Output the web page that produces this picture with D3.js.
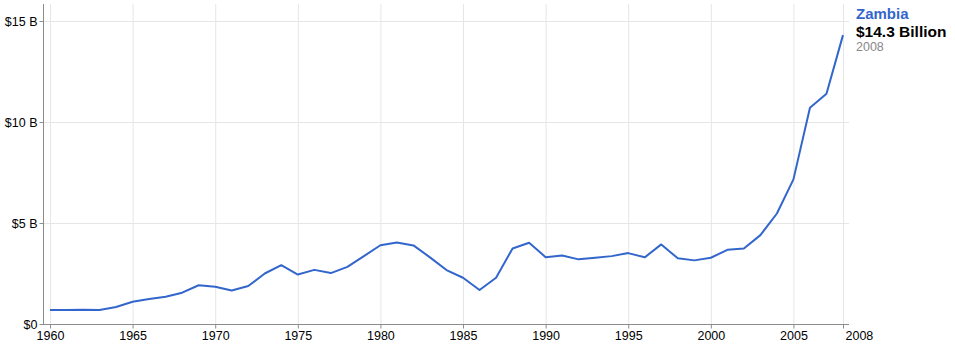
<!DOCTYPE html>
<html>
<head>
<meta charset="utf-8">
<script src="https://cdn.jsdelivr.net/npm/d3@7"></script>
<style>
  body { margin: 0; background: #fff; }
  svg { font-family: Arial, "Liberation Sans", sans-serif; }
  .grid line { stroke: #e6e6e6; stroke-width: 1; }
  .axis path, .axis line { stroke: #8c8c8c; }
  .axis text { fill: #000; font-size: 12.5px; }
</style>
</head>
<body>
<svg width="955" height="346"></svg>
<script>
// Zambia GDP, current US$ billions
const years = d3.range(1960, 2009);
const gdp = [
  0.69, 0.69, 0.70, 0.69, 0.84, 1.10, 1.24, 1.35, 1.55, 1.92,
  1.84, 1.66, 1.88, 2.50, 2.91, 2.45, 2.68, 2.52, 2.83, 3.36,
  3.90, 4.04, 3.89, 3.30, 2.67, 2.29, 1.68, 2.29, 3.74, 4.02,
  3.31, 3.39, 3.20, 3.28, 3.36, 3.51, 3.30, 3.94, 3.25, 3.15,
  3.28, 3.67, 3.74, 4.40, 5.47, 7.16, 10.71, 11.40, 14.30
];
const xTicks = [1960, 1965, 1970, 1975, 1980, 1985, 1990, 1995, 2000, 2005, 2008];
const yTicks = [0, 5, 10, 15];
const yLabels = ['$0', '$5 B', '$10 B', '$15 B'];

const data = years.map((y, i) => ({ year: y, value: gdp[i] }));

const svg = d3.select('svg');
const plotLeft = 43, plotRight = 849, plotTop = 4, plotBottom = 324;

const x = d3.scaleLinear()
    .domain([1960, 2008])
    .range([50, 843]);

const y = d3.scaleLinear()
    .domain([0, 15])
    .range([plotBottom, 21]);

// gridlines
const grid = svg.append('g').attr('class', 'grid');
grid.selectAll('.v')
    .data(xTicks).enter()
    .append('line')
    .attr('x1', d => x(d) + 0.5).attr('x2', d => x(d) + 0.5)
    .attr('y1', plotTop).attr('y2', plotBottom);
grid.selectAll('.h')
    .data(yTicks.slice(1)).enter()
    .append('line')
    .attr('x1', plotLeft).attr('x2', plotRight)
    .attr('y1', d => Math.round(y(d)) + 0.5).attr('y2', d => Math.round(y(d)) + 0.5);

// y axis
const yAxis = svg.append('g')
    .attr('class', 'axis')
    .attr('transform', `translate(${plotLeft + 0.5},0)`)
    .call(d3.axisLeft(y).tickValues(yTicks).tickSize(4).tickSizeOuter(0)
        .tickFormat((d, i) => yLabels[i]));
yAxis.select('.domain').attr('d', `M0,${plotTop}V${plotBottom}`);
yAxis.selectAll('text').attr('x', -6);

// x axis
const xAxis = svg.append('g')
    .attr('class', 'axis')
    .attr('transform', `translate(0,${plotBottom + 0.5})`)
    .call(d3.axisBottom(x).tickValues(xTicks).tickSize(4).tickSizeOuter(0)
        .tickFormat(d3.format('d')));
xAxis.select('.domain').attr('d', `M${plotLeft},0H${plotRight}`);
xAxis.selectAll('text').attr('y', 7);
xAxis.selectAll('.tick')
    .filter(d => d === 2008)
    .select('text')
    .attr('text-anchor', 'start')
    .attr('x', 2);

// line
const line = d3.line()
    .x(d => x(d.year))
    .y(d => y(d.value));

svg.append('path')
    .datum(data)
    .attr('fill', 'none')
    .attr('stroke', '#3366cc')
    .attr('stroke-width', 2)
    .attr('stroke-linejoin', 'round')
    .attr('d', line);

// label at the end
const last = data[data.length - 1];
const lbl = svg.append('g').attr('transform', 'translate(856,0)');
lbl.append('text')
    .attr('y', 19)
    .attr('fill', '#3366cc')
    .attr('font-size', 15)
    .attr('font-weight', 'bold')
    .text('Zambia');
lbl.append('text')
    .attr('y', 37)
    .attr('fill', '#000')
    .attr('font-size', 15.5)
    .attr('font-weight', 'bold')
    .text(`$${last.value.toFixed(1)} Billion`);
lbl.append('text')
    .attr('y', 51)
    .attr('fill', '#888')
    .attr('font-size', 12.5)
    .text(last.year);
</script>
</body>
</html>
